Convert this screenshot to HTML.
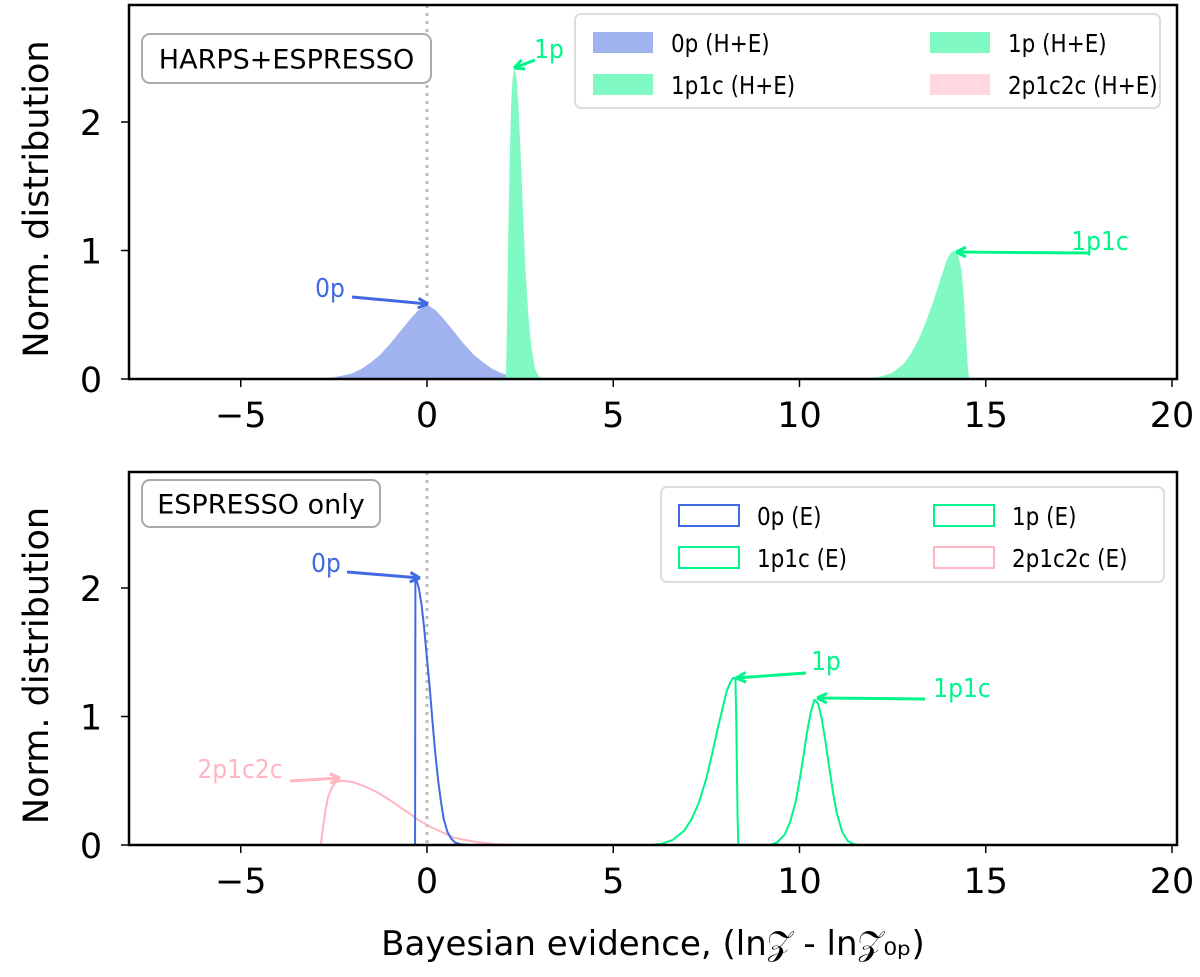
<!DOCTYPE html>
<html><head><meta charset="utf-8"><style>
html,body{margin:0;padding:0;background:#fff;}
svg{display:block;font-family:"DejaVu Sans","Liberation Sans",sans-serif;}
</style></head><body>
<svg id="chart" width="1200" height="977" viewBox="0 0 1200 977" xmlns="http://www.w3.org/2000/svg"></svg>
<script>
// ---- data ----
const xTicks = [-5, 0, 5, 10, 15, 20];
const yTicks = [0, 1, 2];
// top panel (H+E), filled
const top0pX = [-3.5,-3,-2.5,-2.2,-2,-1.75,-1.5,-1.25,-1,-0.75,-0.5,-0.25,0,0.25,0.5,0.75,1,1.25,1.5,1.75,2,2.2,2.5,3,3.5];
const top0pY = [0,0.003,0.013,0.03,0.045,0.08,0.13,0.19,0.27,0.36,0.45,0.53,0.58,0.53,0.45,0.36,0.27,0.19,0.13,0.08,0.045,0.03,0.013,0.003,0];
const top1pX = [2.12,2.15,2.18,2.22,2.26,2.3,2.35,2.4,2.45,2.5,2.55,2.6,2.65,2.72,2.8,2.9,3.0,3.1];
const top1pY = [0,0.5,1.1,1.7,2.15,2.35,2.42,2.35,2.15,1.85,1.5,1.15,0.82,0.5,0.25,0.08,0.02,0];
const top1p1cX = [11.8,12.2,12.5,12.8,13.0,13.2,13.4,13.6,13.8,13.95,14.05,14.15,14.25,14.35,14.42,14.47,14.52,14.55];
const top1p1cY = [0,0.02,0.05,0.12,0.2,0.31,0.45,0.61,0.79,0.92,0.98,1.0,0.97,0.85,0.6,0.35,0.1,0];
// bottom panel (E), outlines
const bot0pX = [-0.32,-0.31,-0.28,-0.22,-0.15,-0.08,0,0.08,0.15,0.22,0.3,0.38,0.45,0.55,0.65,0.75,0.9,1.1,1.3];
const bot0pY = [0,2.07,2.06,2.0,1.88,1.7,1.45,1.2,0.95,0.72,0.5,0.33,0.2,0.1,0.05,0.02,0.006,0.001,0];
const bot2pX = [-2.85,-2.8,-2.72,-2.65,-2.55,-2.45,-2.3,-2,-1.7,-1.4,-1.1,-0.8,-0.5,-0.2,0.1,0.4,0.7,1,1.4,1.8,2.2,2.6];
const bot2pY = [0,0.12,0.28,0.38,0.45,0.49,0.5,0.49,0.46,0.42,0.37,0.31,0.25,0.19,0.14,0.1,0.06,0.04,0.02,0.008,0.003,0];
const bot1pX = [6.0,6.3,6.6,6.9,7.1,7.3,7.5,7.65,7.8,7.95,8.05,8.15,8.22,8.28,8.3,8.32,8.34,8.36];
const bot1pY = [0,0.01,0.04,0.11,0.2,0.33,0.52,0.7,0.9,1.08,1.2,1.27,1.3,1.3,1.0,0.6,0.2,0];
const bot1p1cX = [9.2,9.4,9.6,9.75,9.9,10.0,10.1,10.2,10.3,10.4,10.5,10.6,10.7,10.8,10.9,11.0,11.15,11.3,11.45,11.6];
const bot1p1cY = [0,0.02,0.08,0.18,0.34,0.5,0.68,0.87,1.03,1.13,1.1,0.98,0.8,0.6,0.41,0.25,0.1,0.03,0.008,0];

const NS="http://www.w3.org/2000/svg";
const svg=document.getElementById('chart');
function mk(tag,attrs,parent,text){const e=document.createElementNS(NS,tag);for(const k in attrs)e.setAttribute(k,attrs[k]);if(text!==undefined)e.textContent=text;(parent||svg).appendChild(e);return e;}
function squeeze(t,f){const w=t.getComputedTextLength();if(w>0){t.setAttribute('textLength',(w*f).toFixed(1));t.setAttribute('lengthAdjust','spacingAndGlyphs');}}
const L=129,R=1177,XMIN=-8,XMAX=20.135;
const xs=v=>L+(v-XMIN)/(XMAX-XMIN)*(R-L);
const BLUE='#4169e1',GREEN='#00f58a',PINK='#ffb6c1';

function panel(top,bottom,name){
  const ys=v=>bottom-v*128.5;
  const g=mk('g',{});
  
  
  const z=mk('line',{x1:xs(0),x2:xs(0),y1:top,y2:bottom,stroke:'#bbb','stroke-width':3,'stroke-dasharray':'3,5'},g);
  
  
  xTicks.forEach(t=>{
    mk('line',{x1:xs(t),x2:xs(t),y1:bottom,y2:bottom+8,stroke:'#000','stroke-width':1.5},g);
    const tx=mk('text',{x:xs(t),y:bottom+48,'font-size':35,'text-anchor':'middle'},g,t<0?'\u2212'+(-t):String(t));
    
    
  });
  yTicks.forEach(t=>{
    mk('line',{x1:L-8,x2:L,y1:ys(t),y2:ys(t),stroke:'#000','stroke-width':1.5},g);
    const ty=mk('text',{x:L-38,y:ys(t)+13,'font-size':35,'text-anchor':'middle'},g,String(t));
    
    
  });
  const yl=mk('text',{x:0,y:0,'font-size':35,'text-anchor':'middle',transform:`translate(48,${(top+bottom)/2+7}) rotate(-90)`},g,'Norm. distribution');
  
  
  return {g,ys};
}
function curve(g,ys,X,Y,fill,stroke,name){
  let d='M'+xs(X[0])+','+ys(Y[0]);
  for(let i=1;i<X.length;i++) d+=' L'+xs(X[i]).toFixed(1)+','+ys(Y[i]).toFixed(1);
  const p=mk('path',{d:d+(fill?' Z':''),fill:fill||'none',stroke:stroke||'none','stroke-width':2,'stroke-linejoin':'round'},g);
  
  
}
function arrow(g,x1,y1,x2,y2,col,label,tx,ty,name){
  mk('line',{x1,y1,x2,y2,stroke:col,'stroke-width':3},g);
  const a=Math.atan2(y2-y1,x2-x1),s=11;
  mk('path',{d:`M${x2},${y2} L${x2-s*Math.cos(a-0.45)},${y2-s*Math.sin(a-0.45)} M${x2},${y2} L${x2-s*Math.cos(a+0.45)},${y2-s*Math.sin(a+0.45)}`,stroke:col,'stroke-width':3,fill:'none'},g);
  const t=mk('text',{x:tx,y:ty,'font-size':26,fill:col,'text-anchor':'middle'},g,label);
  
  
  squeeze(t,0.9);
}
function legend(g,x,y,w,h,items,name,colOff){
  const lg=mk('g',{},g);
  
  
  mk('rect',{x,y,width:w,height:h,rx:6,fill:'#fff',stroke:'#ddd','stroke-width':2},lg);
  items.forEach((it,i)=>{
    const col=i%2,row=Math.floor(i/2);
    const px=x+18+col*colOff,py=y+18+row*42;
    mk('rect',{x:px,y:py,width:60,height:21,fill:it.fill||'none',stroke:it.stroke||'none','stroke-width':2},lg);
    const t=mk('text',{x:px+78,y:py+20,'font-size':25},lg,it.label);
    
    
    squeeze(t,0.86);
  });
}
function tag(g,x,y,w,h,label,name){
  mk('rect',{x,y,width:w,height:h,rx:8,fill:'#fff',stroke:'#aaa','stroke-width':2},g);
  const t=mk('text',{x:x+w/2,y:y+h/2+10,'font-size':27,'text-anchor':'middle'},g,label);
  
  
}

// top panel
const P1=panel(5,379,'top-panel');
curve(P1.g,P1.ys,top0pX,top0pY,'#a0b3ee',null,'fill-0p-HE');
curve(P1.g,P1.ys,top1pX,top1pY,'#80f9c2',null,'fill-1p-HE');
curve(P1.g,P1.ys,top1p1cX,top1p1cY,'#80f9c2',null,'fill-1p1c-HE');
mk('rect',{x:L,y:5,width:R-L,height:374,fill:'none',stroke:'#000','stroke-width':2.5},P1.g);
tag(P1.g,142,34,289,49,'HARPS+ESPRESSO','panel-label-harps-espresso');
legend(P1.g,575,14,585,94,[{fill:'#a0b3ee',label:'0p (H+E)'},{fill:'#80f9c2',label:'1p (H+E)'},{fill:'#80f9c2',label:'1p1c (H+E)'},{fill:'#ffd9df',label:'2p1c2c (H+E)'}],'top-legend',337);
arrow(P1.g,352,297,428,304,BLUE,'0p',330,297,'annotation-0p');
arrow(P1.g,535,60,514,68,GREEN,'1p',549,58,'annotation-1p');
arrow(P1.g,1090,253,956,252,GREEN,'1p1c',1100,250,'annotation-1p1c');

// bottom panel
const P2=panel(472,845,'bottom-panel');
curve(P2.g,P2.ys,bot2pX,bot2pY,null,PINK,'line-2p1c2c-E');
curve(P2.g,P2.ys,bot0pX,bot0pY,null,BLUE,'line-0p-E');
curve(P2.g,P2.ys,bot1pX,bot1pY,null,GREEN,'line-1p-E');
curve(P2.g,P2.ys,bot1p1cX,bot1p1cY,null,GREEN,'line-1p1c-E');
mk('rect',{x:L,y:472,width:R-L,height:373,fill:'none',stroke:'#000','stroke-width':2.5},P2.g);
tag(P2.g,142,480,238,47,'ESPRESSO only','panel-label-espresso-only');
legend(P2.g,661,487,503,95,[{stroke:BLUE,label:'0p (E)'},{stroke:GREEN,label:'1p (E)'},{stroke:GREEN,label:'1p1c (E)'},{stroke:PINK,label:'2p1c2c (E)'}],'bottom-legend',255);
arrow(P2.g,347,572,420,578,BLUE,'0p',326,572,'annotation-0p-E');
arrow(P2.g,806,673,736,678,GREEN,'1p',826,670,'annotation-1p-E');
arrow(P2.g,925,699,817,698,GREEN,'1p1c',962,697,'annotation-1p1c-E');
arrow(P2.g,290,781,340,778,PINK,'2p1c2c',240,778,'annotation-2p1c2c-E');

const xl=mk('text',{x:653,y:955,'font-size':34,'text-anchor':'middle'},svg,'Bayesian evidence, (ln\uD835\uDCB5 - ln\uD835\uDCB5\u2080\u209A)');


</script>
</body></html>
